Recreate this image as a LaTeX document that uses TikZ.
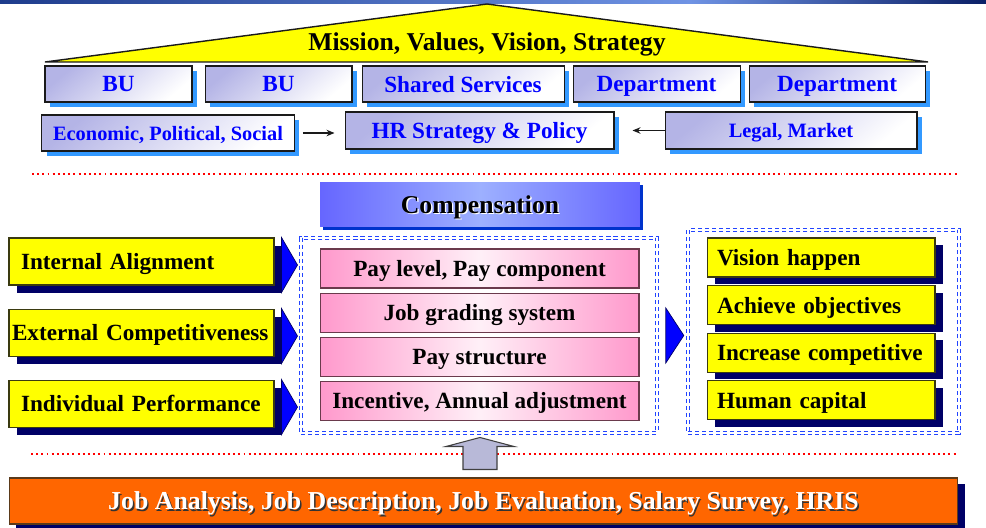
\documentclass[tikz,border=0pt]{standalone}
\usepackage{fontspec}
\setmainfont{Liberation Serif}
\usetikzlibrary{arrows.meta,positioning,shadows}
\definecolor{hrInk}{HTML}{1A1A1A}
\definecolor{hrYellow}{HTML}{FFFF00}
\definecolor{hrYellowLine}{HTML}{3A3A10}
\definecolor{hrNavy}{HTML}{000066}
\definecolor{hrLavender}{HTML}{B4B4E6}
\definecolor{hrBlueText}{HTML}{0000FF}
\definecolor{hrSky}{HTML}{3399FF}
\definecolor{hrPink}{HTML}{FF99CC}
\definecolor{hrPinkLine}{HTML}{6A3A4C}
\definecolor{hrComp}{HTML}{6666FF}
\definecolor{hrCompLight}{HTML}{9DB0FF}
\definecolor{hrCompShadow}{HTML}{0033CC}
\definecolor{hrFrame}{HTML}{2244FF}
\definecolor{hrRed}{HTML}{FF0000}
\definecolor{hrGrey}{HTML}{B8B9D8}
\definecolor{hrOrange}{HTML}{FF6600}
\definecolor{hrOrangeLine}{HTML}{5A3A1A}
\definecolor{hrBarDark}{HTML}{1E3C8C}
\definecolor{hrBarLight}{HTML}{6F93E4}
\definecolor{hrBarNavy}{HTML}{0A1F66}
\newcommand{\castText}[3]{\leavevmode\rlap{\kern0.8pt\raisebox{-0.8pt}{\textcolor{#2}{#3}}}\textcolor{#1}{#3}}
\tikzset{
  hr/base/.style={draw=hrInk, line width=0.6pt, inner sep=0pt, align=center, text depth=0pt,
    font=\fontsize{13.2}{15}\selectfont\bfseries},
  hr/unit/.style={hr/base, text=hrBlueText, minimum height=0.72cm,
    top color=hrLavender, bottom color=white, shading angle=40,
    drop shadow={shadow xshift=0.1cm, shadow yshift=-0.1cm, fill=hrSky, opacity=1}},
  hr/small/.style={font=\fontsize{11.6}{14}\selectfont\bfseries},
  hr/driver/.style={hr/base, fill=hrYellow, draw=hrYellowLine, minimum height=0.94cm,
    text width=4.82cm, inner xsep=0.24cm, align=left,
    drop shadow={shadow xshift=0.16cm, shadow yshift=-0.16cm, fill=hrNavy, opacity=1}},
  hr/outcome/.style={hr/base, fill=hrYellow, draw=hrYellowLine, minimum height=0.78cm,
    text width=4.16cm, inner xsep=0.2cm, align=left,
    drop shadow={shadow xshift=0.16cm, shadow yshift=-0.14cm, fill=hrNavy, opacity=1}},
  hr/element/.style={hr/base, draw=hrPinkLine, left color=hrPink, right color=hrPink,
    middle color=hrPink!15, minimum width=6.38cm, minimum height=0.78cm},
  hr/frame/.style={draw=hrFrame, line width=2.1pt, dash pattern=on 2.3pt off 1.7pt, inner sep=0pt,
    postaction={draw=white, line width=0.7pt, dash pattern=on 2.3pt off 1.7pt}},
  hr/divider/.style={draw=hrRed, line width=1.1pt, dash pattern=on 1.1pt off 1.85pt},
  hr/pointer/.style={fill=blue, draw=hrNavy, line width=0.4pt},
  hr/lift/.style={fill=hrGrey, draw=black!75, line width=0.6pt},
  hr/arrow/.style={-{Stealth[length=1.6mm,width=1.3mm]}, draw=hrInk, line width=0.6pt},
}
\begin{document}
\begin{tikzpicture}[x=0.02cm, y=-0.02cm]
\useasboundingbox (0,0) rectangle (986,527);
% header bar
\shade[left color=hrBarDark, right color=hrBarLight] (0,0) rectangle (690,4);
\shade[left color=hrBarLight, right color=hrBarNavy] (690,0) rectangle (986,4);

% roof
\filldraw[fill=hrYellow, draw=hrInk, line width=0.8pt] (45,62) -- (487,4) -- (928,62) -- cycle;
\node[font=\fontsize{14.6}{17}\selectfont\bfseries] (mission) at (487,44)
  {Mission, Values, Vision, Strategy};

\node[hr/unit, minimum width=2.94cm] (bu1) at (118.5,84) {BU};
\node[hr/unit, minimum width=2.94cm, right=0.24cm of bu1] (bu2) {BU};
\node[hr/unit, minimum width=4.04cm, right=0.18cm of bu2] (shared) {Shared Services};
\node[hr/unit, minimum width=3.34cm, right=0.16cm of shared] (dept1) {Department};
\node[hr/unit, minimum width=3.52cm, right=0.16cm of dept1] (dept2) {Department};

\node[hr/unit, hr/small, minimum width=5.05cm] (econ) at (168,133) {Economic, Political, Social};
\node[hr/unit, minimum width=5.38cm, minimum height=0.74cm] (hr) at (479.5,130.5) {HR Strategy \& Policy};
\node[hr/unit, hr/small, minimum width=5.04cm, minimum height=0.74cm] (legal) at (791,130.5) {Legal, Market};

\draw[hr/arrow, shorten <=0.16cm, shorten >=0.2cm] (econ.east) -- (econ.east -| hr.west);
\draw[hr/arrow, shorten >=0.36cm] (legal.west) -- (legal.west -| hr.east);

\draw[hr/divider] (32,174) -- (958,174);

% compensation block
\node[hr/base, draw=none, left color=hrComp, right color=hrComp, middle color=hrCompLight,
  minimum width=6.4cm, minimum height=0.9cm, font=\fontsize{14.6}{17}\selectfont\bfseries,
  drop shadow={shadow xshift=0.06cm, shadow yshift=-0.06cm, fill=hrCompShadow, opacity=1}]
  (comp) at (480,204.5) {\castText{black}{white}{Compensation}};

\node[hr/driver] (ia) at (141.5,261.5) {Internal Alignment};
\node[hr/driver, inner xsep=0.06cm, text width=5.18cm, below=0.46cm of ia] (ec) {External Competitiveness};
\node[hr/driver, below=0.46cm of ec] (ip) {Individual Performance};
\foreach \b in {ia,ec,ip}
  \filldraw[hr/pointer] ([xshift=0.14cm]\b.north east) -- ([xshift=0.46cm,yshift=-0.07cm]\b.east)
    -- ([xshift=0.14cm,yshift=-0.14cm]\b.south east) -- cycle;

\node[hr/frame, minimum width=7.12cm, minimum height=3.9cm] (mixframe) at (479,335.5) {};
\node[hr/element] (pay1) at (479.5,268.5) {Pay level, Pay component};
\node[hr/element, below=0.08cm of pay1] (pay2) {Job grading system};
\node[hr/element, below=0.08cm of pay2] (pay3) {Pay structure};
\node[hr/element, below=0.08cm of pay3] (pay4) {Incentive, Annual adjustment};

\filldraw[hr/pointer] ([xshift=0.14cm,yshift=0.55cm]mixframe.east) -- ([xshift=0.5cm]mixframe.east)
  -- ([xshift=0.14cm,yshift=-0.55cm]mixframe.east) -- cycle;

\node[hr/frame, minimum width=5.42cm, minimum height=4.06cm] (goalframe) at (823.5,331.5) {};
\node[hr/outcome] (vis) at (821,257.5) {Vision happen};
\node[hr/outcome, below=0.15cm of vis] (obj) {Achieve objectives};
\node[hr/outcome, below=0.15cm of obj] (cmp) {Increase competitive};
\node[hr/outcome, below=0.15cm of cmp] (cap) {Human capital};

\draw[hr/divider] (31,454) -- (958,454);

% foundation
\node[hr/base, draw=hrOrangeLine, fill=hrOrange, minimum width=18.98cm, minimum height=0.92cm,
  font=\fontsize{14.7}{17}\selectfont\bfseries,
  drop shadow={shadow xshift=0.14cm, shadow yshift=-0.12cm, fill=hrNavy, opacity=1}]
  (base) at (483.5,501)
  {\castText{white}{black!80}{Job Analysis, Job Description, Job Evaluation, Salary Survey, HRIS}};
\coordinate (upfoot) at ([xshift=-0.07cm,yshift=0.16cm]base.north);
\filldraw[hr/lift, shift={(upfoot)}] (-17,0) -- (-17,-23) -- (-34,-23) -- (0,-32) -- (34,-23)
  -- (17,-23) -- (17,0) -- cycle;
\end{tikzpicture}
\end{document}
